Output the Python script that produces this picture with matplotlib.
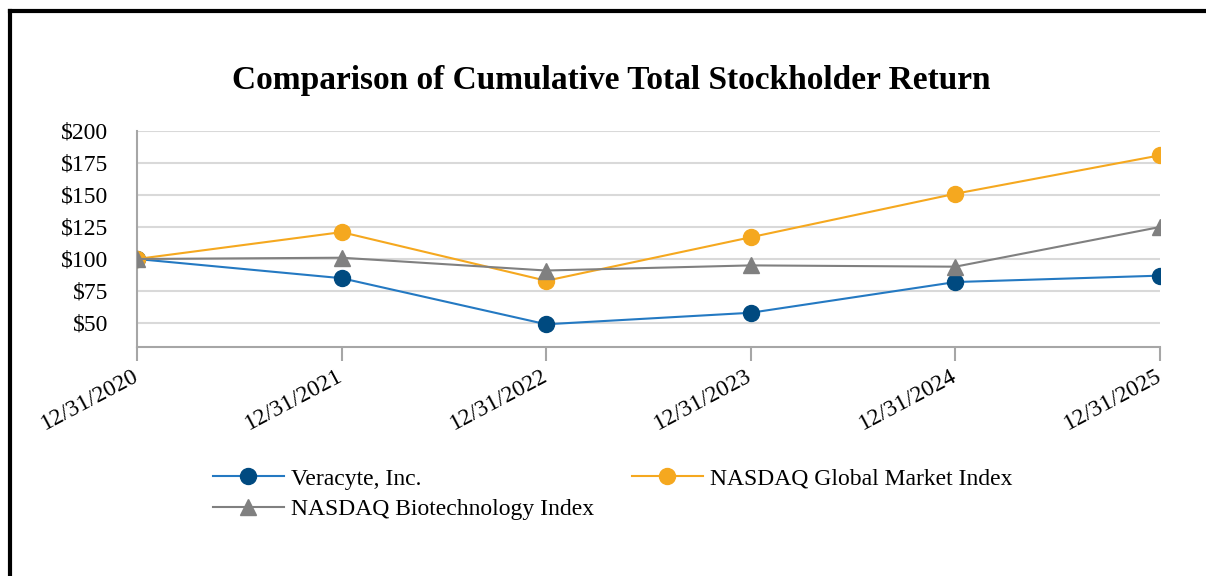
import matplotlib
matplotlib.use('Agg')
import matplotlib.pyplot as plt
import matplotlib.transforms as mtransforms
from matplotlib.lines import Line2D

plt.rcParams['font.family'] = ['Liberation Serif', 'DejaVu Serif']

dates = ["12/31/2020", "12/31/2021", "12/31/2022", "12/31/2023", "12/31/2024", "12/31/2025"]
veracyte = [100, 85, 49, 58, 82, 87]
nasdaq_global = [100, 121, 83, 117, 151, 181]
nasdaq_biotech = [100, 101, 91, 95, 94, 125]
y_ticks = [50, 75, 100, 125, 150, 175, 200]

W, H = 1206, 576
fig = plt.figure(figsize=(W / 100, H / 100), dpi=100)
ax = fig.add_axes([137 / W, 1 - 347 / H, (1160 - 137) / W, (347 - 131) / H])

x = list(range(len(dates)))
h_v, = ax.plot(x, veracyte, color='#2479c2', lw=1.5, marker='o', ms=11.5,
               markerfacecolor='#004a80', markeredgecolor='#004a80',
               label="Veracyte, Inc.", zorder=3)
h_g, = ax.plot(x, nasdaq_global, color='#f5a81f', lw=1.5, marker='o', ms=11.5,
               markerfacecolor='#f5a81f', markeredgecolor='#f5a81f',
               label="NASDAQ Global Market Index", zorder=4)
h_b, = ax.plot(x, nasdaq_biotech, color='#808080', lw=1.5, marker='^', ms=11,
               markerfacecolor='#808080', markeredgecolor='#808080',
               label="NASDAQ Biotechnology Index", zorder=5)

ax.set_xlim(0, len(dates) - 1)
ax.set_ylim(31.25, 200)
ax.set_yticks(y_ticks)
ax.set_yticklabels([f"${v}" for v in y_ticks], fontsize=17)
ax.set_xticks(x)
ax.set_xticklabels([])
# rotated date labels, nudged so they end at the tick like the original
lbl_tr = mtransforms.offset_copy(ax.get_xaxis_transform(), fig=fig, x=-5, y=-18, units='dots')
for xi, d in zip(x, dates):
    ax.text(xi, 0, d, transform=lbl_tr, rotation=28, ha='right', va='top',
            rotation_mode='anchor', fontsize=17)
ax.grid(axis='y', color='#d9d9d9', lw=1.5)
ax.set_axisbelow(True)
for s in ['top', 'right']:
    ax.spines[s].set_visible(False)
for s in ['left', 'bottom']:
    ax.spines[s].set_color('#a6a6a6')
    ax.spines[s].set_linewidth(1.5)
ax.tick_params(axis='y', length=0, pad=21)
ax.tick_params(axis='x', length=10, width=1.5, color='#a6a6a6')

fig.text(0.507, 1 - 80 / H, "Comparison of Cumulative Total Stockholder Return",
         ha='center', va='center', fontsize=24, fontweight='bold')

fig.legend(handles=[h_v, h_b, h_g], ncol=2, loc='upper left',
           bbox_to_anchor=(213 / W, 1 - 468 / H), frameon=False, fontsize=17,
           handlelength=3.0, handletextpad=0.3, columnspacing=1.6,
           labelspacing=0.4, borderpad=0, borderaxespad=0, markerscale=1.0)

fig.add_artist(Line2D([10 / W, 1.0], [1 - 11 / H, 1 - 11 / H], color='black', lw=3))
fig.add_artist(Line2D([10 / W, 10 / W], [0, 1 - 11 / H], color='black', lw=3))

fig.savefig('out.png', dpi=100)
